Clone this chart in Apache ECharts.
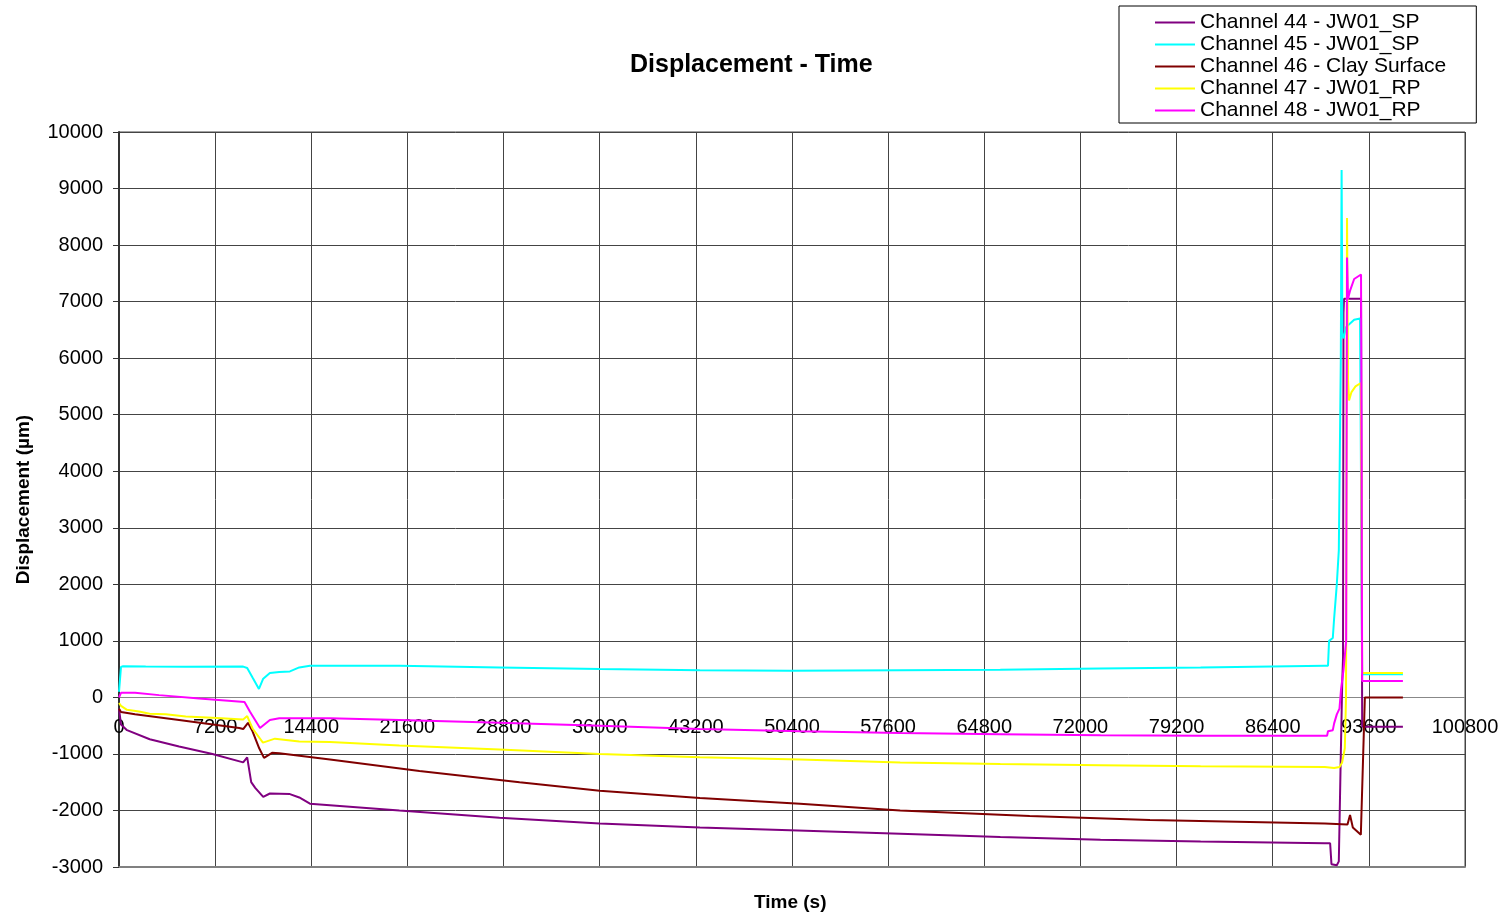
<!DOCTYPE html>
<html>
<head>
<meta charset="utf-8">
<title>Displacement - Time</title>
<script src="https://cdn.jsdelivr.net/npm/echarts@6/dist/echarts.min.js"></script>
<style>
  html, body { margin: 0; padding: 0; background: #fff; }
  #chart { width: 1506px; height: 920px; }
</style>
</head>
<body>
<div id="chart"></div>
<script>
// 数据：[时间(s), 位移(µm)]
const seriesNames = [
  'Channel 44 - JW01_SP',
  'Channel 45 - JW01_SP',
  'Channel 46 - Clay Surface',
  'Channel 47 - JW01_RP',
  'Channel 48 - JW01_RP'
]
const seriesColors = ['#800080', '#00ffff', '#800000', '#ffff00', '#ff00ff']

const ch44 = [
  [0, -200], [150, -480], [600, -580], [2300, -740], [4500, -870], [7000, -1000],
  [9300, -1150], [9600, -1060], [9900, -1500], [10200, -1600], [10800, -1760],
  [11300, -1700], [12800, -1710], [13500, -1770], [14300, -1880], [21000, -2000],
  [28500, -2130], [36000, -2230], [43500, -2300], [50250, -2350], [58500, -2410],
  [66000, -2470], [73500, -2520], [81000, -2550], [90300, -2580], [90700, -2580],
  [90800, -2950], [91200, -2970], [91350, -2900], [91500, -1000], [91600, 200],
  [91665, 700], [91700, 6800], [91740, 7050], [93014, 7050], [93100, -520], [96150, -520]
]
const ch45 = [
  [0, 100], [150, 540], [300, 550], [2000, 545], [5000, 540], [9300, 545],
  [9600, 520], [10000, 350], [10480, 150], [10800, 330], [11300, 430], [12000, 450],
  [12800, 460], [13500, 530], [14300, 560], [21000, 560], [28500, 530], [36000, 500],
  [43500, 480], [50250, 470], [58500, 480], [66000, 490], [73500, 510], [81000, 530],
  [90300, 560], [90540, 560], [90620, 1000], [90900, 1050], [91000, 1400], [91200, 2000],
  [91350, 2600], [91500, 6000], [91560, 9330], [91620, 6400], [91700, 6350],
  [91900, 6550], [92500, 6680], [92940, 6700], [93100, 410], [96150, 410]
]
const ch46 = [
  [0, -200], [150, -260], [1200, -300], [4500, -400], [9000, -540], [9300, -560],
  [9660, -450], [10000, -600], [10500, -900], [10860, -1070], [11460, -980], [12000, -990],
  [15800, -1100], [22500, -1300], [30000, -1500], [36000, -1650], [43500, -1780],
  [51000, -1880], [58500, -2000], [68200, -2100], [77200, -2170], [90300, -2230],
  [92000, -2250], [92190, -2080], [92400, -2300], [93000, -2430], [93300, 0], [96150, 0]
]
const ch47 = [
  [0, -100], [150, -150], [600, -220], [1500, -250], [2300, -290], [3500, -300],
  [5000, -340], [7000, -360], [9300, -390], [9600, -330], [10000, -550], [10780, -800],
  [11680, -730], [13500, -780], [15800, -790], [21000, -850], [28500, -920],
  [36000, -1000], [43500, -1060], [51000, -1100], [58500, -1150], [66000, -1180],
  [73500, -1200], [81000, -1220], [90300, -1230], [91000, -1250], [91400, -1230],
  [91600, -1150], [91800, -900], [91890, 0], [91965, 8480], [92040, 5600],
  [92115, 5250], [92300, 5400], [92600, 5500], [93000, 5560], [93100, 430], [96150, 430]
]
const ch48 = [
  [0, 0], [150, 80], [1200, 80], [3000, 40], [6000, -20], [9400, -80], [9800, -250],
  [10560, -540], [11300, -400], [12000, -370], [15800, -370], [21000, -400],
  [28500, -450], [36000, -500], [43500, -560], [51000, -600], [58500, -630],
  [66000, -650], [73500, -670], [81000, -680], [90300, -680], [90470, -680],
  [90540, -600], [90900, -580], [91000, -460], [91200, -300], [91400, -200],
  [91520, 150], [91700, 480], [91900, 1000], [91965, 7780], [92040, 7050],
  [92200, 7200], [92500, 7400], [93014, 7480], [93100, 290], [96150, 290]
]
const seriesData = [ch44, ch45, ch46, ch47, ch48]

const FONT = 'Arial, "Liberation Sans", sans-serif'

// 横向网格线颜色：0 线为灰色
const hGridColors = ['#444', '#444', '#444', '#888', '#444', '#444', '#444',
  '#444', '#444', '#444', '#444', '#444', '#444', '#444']

const chart = echarts.init(document.getElementById('chart'))

const option = {
  animation: false,
  backgroundColor: '#ffffff',
  textStyle: { fontFamily: FONT, color: '#000' },
  title: [
    {
      text: 'Displacement - Time',
      left: 630,
      top: 53,
      padding: 0,
      textStyle: { fontFamily: FONT, fontSize: 25, fontWeight: 'bold', color: '#000' }
    },
    {
      text: 'Time (s)',
      left: 754,
      top: 893,
      padding: 0,
      textStyle: { fontFamily: FONT, fontSize: 19, fontWeight: 'bold', color: '#000' }
    }
  ],
  legend: {
    orient: 'vertical',
    left: 1119,
    top: 6,
    padding: [6, 30, 2, 36],
    itemGap: 1,
    itemWidth: 40,
    itemHeight: 2,
    icon: 'rect',
    selectedMode: false,
    borderColor: '#000',
    borderWidth: 1,
    backgroundColor: '#fff',
    textStyle: { fontFamily: FONT, fontSize: 21, color: '#000', lineHeight: 21 },
    data: seriesNames
  },
  grid: {
    left: 119,
    right: 41,
    top: 132,
    bottom: 53,
    containLabel: false,
    outerBoundsMode: 'none',
    show: true,
    borderColor: '#444',
    borderWidth: 1
  },
  xAxis: {
    type: 'value',
    min: 0,
    max: 100800,
    interval: 7200,
    axisLine: { show: true, onZero: false, lineStyle: { color: '#808080', width: 2 } },
    axisTick: { show: false },
    axisLabel: {
      color: '#000',
      fontFamily: FONT,
      fontSize: 20,
      // 标签画在 0 线下方
      margin: -150,
      hideOverlap: false,
      showMinLabel: true,
      showMaxLabel: true,
      formatter: v => String(v)
    },
    splitLine: { show: true, lineStyle: { color: '#444', width: 1 } }
  },
  yAxis: {
    type: 'value',
    min: -3000,
    max: 10000,
    interval: 1000,
    name: 'Displacement (µm)',
    nameLocation: 'middle',
    nameGap: 86,
    nameTextStyle: { fontFamily: FONT, fontSize: 19, fontWeight: 'bold', color: '#000' },
    axisLine: { show: true, onZero: false, lineStyle: { color: '#333', width: 2 } },
    axisTick: { show: true, length: 6, lineStyle: { color: '#333' } },
    axisLabel: { color: '#000', fontFamily: FONT, fontSize: 20, margin: 16, formatter: v => String(v) },
    splitLine: { show: true, lineStyle: { color: hGridColors, width: 1 } }
  },
  series: seriesNames.map((name, i) => ({
    name,
    type: 'line',
    data: seriesData[i],
    showSymbol: false,
    symbol: 'none',
    lineStyle: { color: seriesColors[i], width: 2 },
    itemStyle: { color: seriesColors[i] },
    emphasis: { disabled: true }
  }))
}

chart.setOption(option)
window.addEventListener('resize', () => chart.resize())
</script>
</body>
</html>
